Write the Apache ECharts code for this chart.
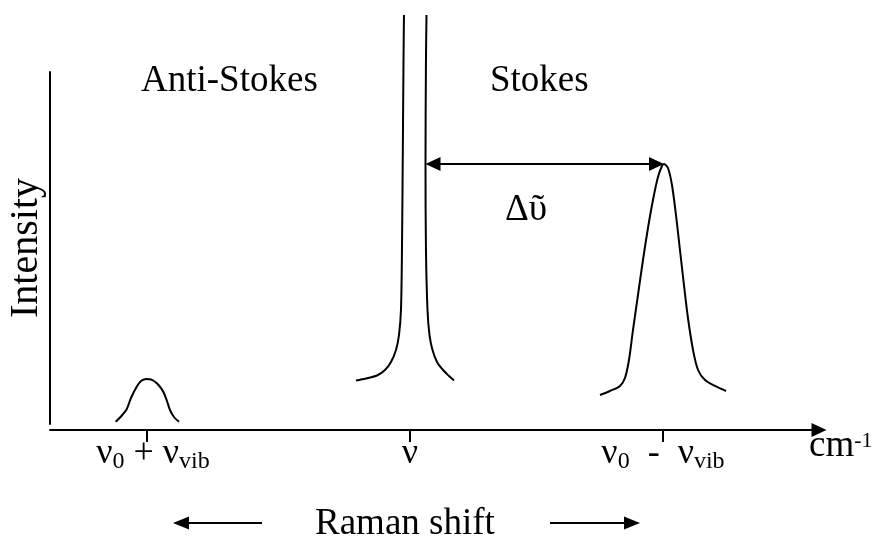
<!DOCTYPE html>
<html><head><meta charset="utf-8">
<script src="https://cdn.jsdelivr.net/npm/echarts@6/dist/echarts.min.js"></script>
<style>html,body{margin:0;padding:0;background:#fff}#c{width:872px;height:538px}</style>
</head><body><div id="c"></div>
<script>
// ---- data (arbitrary units: x = Raman shift position 0..100, y = intensity 0..100) ----
const antiStokesX = [8.54, 9.23, 9.97, 10.53, 11.27, 11.83, 12.57, 13.13, 13.65, 14.17, 14.73, 15.21, 15.60, 16.12, 16.78];
const antiStokesY = [0.65, 2.13, 4.18, 7.39, 10.60, 12.22, 12.78, 12.64, 12.02, 10.94, 9.18, 6.53, 3.98, 1.99, 0.65];

const rayleighLeftX = [39.79, 41.09, 42.52, 43.56, 44.34, 44.99, 45.38, 45.64, 45.77, 45.88, 45.97, 46.03];
const rayleighLeftY = [12.36, 12.93, 13.78, 15.34, 17.61, 21.02, 25.28, 32.39, 49.43, 77.84, 103.4, 116.2];
const rayleighRightX = [48.96, 48.89, 48.83, 48.89, 49.09, 49.35, 49.74, 50.33, 51.11, 51.89, 52.54];
const rayleighRightY = [116.2, 103.4, 73.86, 49.43, 32.39, 25.28, 21.02, 17.61, 15.34, 13.64, 12.36];

const stokesX = [71.52, 72.82, 74.12, 74.77, 75.29, 75.81, 76.46, 77.11, 77.76, 78.41, 79.06, 79.58, 79.84, 80.36, 80.88, 81.40, 81.92, 82.44, 82.96, 83.62, 84.27, 85.18, 86.48, 87.91];
const stokesY = [8.24, 9.38, 10.80, 13.07, 18.18, 26.70, 36.65, 46.59, 55.68, 63.64, 70.17, 73.30, 73.86, 72.73, 67.90, 59.38, 49.43, 39.49, 30.11, 21.02, 15.34, 12.50, 10.80, 9.38];

const tickValues = [12.61, 46.81, 79.71];
const tickLabels = ['{pad|}{v|ν}{s|0}{v| + ν}{s|vib}', '{v|ν}', '{v|ν}{s|0}{v|  -  ν}{s|vib}'];

const deltaArrowFrom = [48.83, 73.86];
const deltaArrowTo = [79.84, 73.86];

const FONT = '"Liberation Serif", "Times New Roman", serif';
const FS = 37;
const zip = (xs, ys) => xs.map((x, i) => [x, ys[i]]);

const chart = echarts.init(document.getElementById('c'), null, {renderer: 'canvas'});
const lineStyle = {color: '#000', width: 2};
const ARROW = [14, 15];

chart.setOption({
  animation: false,
  backgroundColor: '#fff',
  grid: {left: 50, right: 53, top: 72, bottom: 114, containLabel: false, outerBoundsMode: 'none'},
  xAxis: {
    type: 'value', min: 0, max: 100, offset: 6,
    axisLine: {show: true, onZero: false, lineStyle: {color: '#000', width: 2}, symbol: ['none', 'triangle'], symbolSize: ARROW},
    axisTick: {show: true, customValues: tickValues, length: 12, lineStyle: {color: '#000', width: 2}},
    axisLabel: {
      show: true, customValues: tickValues, margin: 4,
      formatter: (v) => { const i = tickValues.indexOf(v); return i >= 0 ? tickLabels[i] : ''; },
      rich: {
        v: {fontFamily: FONT, fontSize: 36, lineHeight: 40, color: '#000'},
        s: {fontFamily: FONT, fontSize: 24, lineHeight: 14, verticalAlign: 'bottom', color: '#000'},
        pad: {width: 12}
      }
    },
    splitLine: {show: false},
    name: '{m|cm}{sup|-1}', nameLocation: 'end', nameGap: -10,
    nameTextStyle: {
      align: 'left', verticalAlign: 'top',
      rich: {
        m: {fontFamily: FONT, fontSize: FS, lineHeight: 32, color: '#000'},
        sup: {fontFamily: FONT, fontSize: 22, lineHeight: 22, verticalAlign: 'top', color: '#000'}
      }
    }
  },
  yAxis: {
    type: 'value', min: 0, max: 100,
    axisLine: {show: true, lineStyle: {color: '#000', width: 2}},
    axisTick: {show: false}, axisLabel: {show: false}, splitLine: {show: false},
    name: 'Intensity', nameLocation: 'middle', nameRotate: 90, nameGap: 4,
    nameTextStyle: {fontFamily: FONT, fontSize: 40, lineHeight: 40, color: '#000'}
  },
  series: [
    {type: 'line', data: zip(antiStokesX, antiStokesY), smooth: 0.3, symbol: 'none', clip: false, lineStyle},
    {type: 'line', data: zip(rayleighLeftX, rayleighLeftY), smooth: 0.3, symbol: 'none', clip: false, lineStyle},
    {type: 'line', data: zip(rayleighRightX, rayleighRightY), smooth: 0.3, symbol: 'none', clip: false, lineStyle},
    {type: 'line', data: zip(stokesX, stokesY), smooth: 0.3, symbol: 'none', clip: false, lineStyle}
  ],
  graphic: [
    {type: 'text', left: 141, top: 63, style: {text: 'Anti-Stokes', fontFamily: FONT, fontSize: FS, fill: '#000'}},
    {type: 'text', left: 490, top: 63, style: {text: 'Stokes', fontFamily: FONT, fontSize: FS, fill: '#000'}},
    {type: 'text', left: 505, top: 192, style: {text: 'Δῦ', fontFamily: FONT, fontSize: FS, fill: '#000'}},
    {type: 'text', left: 315, top: 506, style: {text: 'Raman shift', fontFamily: FONT, fontSize: FS, fill: '#000'}},
    {type: 'line', shape: {x1: 187, y1: 523, x2: 262, y2: 523}, style: {stroke: '#000', lineWidth: 2}},
    {type: 'polygon', shape: {points: [[173, 523], [189, 516.5], [189, 529.5]]}, style: {fill: '#000'}},
    {type: 'line', shape: {x1: 550, y1: 523, x2: 626, y2: 523}, style: {stroke: '#000', lineWidth: 2}},
    {type: 'polygon', shape: {points: [[640, 523], [624, 516.5], [624, 529.5]]}, style: {fill: '#000'}}
  ]
});

// Δ arrow: arrow tips land exactly on the data points (symbols are centred, so pull ends in by half length)
const finder = {seriesIndex: 3};
const p1 = chart.convertToPixel(finder, deltaArrowFrom);
const p2 = chart.convertToPixel(finder, deltaArrowTo);
const half = ARROW[1] / 2;
const c1 = chart.convertFromPixel(finder, [p1[0] + half, p1[1]]);
const c2 = chart.convertFromPixel(finder, [p2[0] - half, p2[1]]);
chart.setOption({
  series: [{}, {}, {}, {
    markLine: {
      silent: true, symbol: ['triangle', 'triangle'], symbolSize: ARROW,
      lineStyle: {color: '#000', width: 2, type: 'solid'}, label: {show: false},
      data: [[{coord: c1}, {coord: c2}]]
    }
  }]
});
</script></body></html>
